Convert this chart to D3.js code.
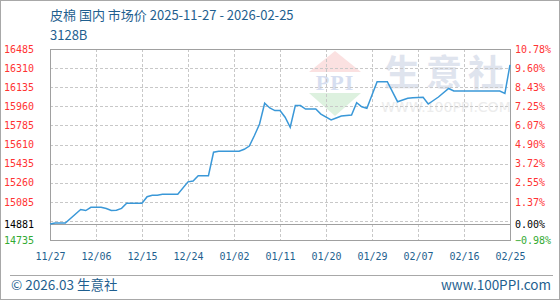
<!DOCTYPE html>
<html>
<head>
<meta charset="utf-8">
<script src="https://cdn.jsdelivr.net/npm/d3@7"></script>
<style>
  body { margin: 0; background: #fff; }
  svg { display: block; }
</style>
</head>
<body>
<svg id="chart" width="560" height="300"></svg>
<script>
// 皮棉 3128B 国内市场价, 2025-11-27 .. 2026-02-25

const dates = [
    "2025-11-27", "2025-11-28", "2025-11-30", "2025-12-03", "2025-12-04", "2025-12-05",
    "2025-12-07", "2025-12-08", "2025-12-09", "2025-12-10", "2025-12-11", "2025-12-12",
    "2025-12-15", "2025-12-16", "2025-12-17", "2025-12-18", "2025-12-19", "2025-12-22",
    "2025-12-24", "2025-12-25", "2025-12-26", "2025-12-28", "2025-12-29", "2025-12-30",
    "2026-01-03", "2026-01-04", "2026-01-05", "2026-01-06", "2026-01-07", "2026-01-08",
    "2026-01-09", "2026-01-10", "2026-01-11", "2026-01-12", "2026-01-13", "2026-01-14",
    "2026-01-15", "2026-01-16", "2026-01-18", "2026-01-19", "2026-01-21", "2026-01-22",
    "2026-01-23", "2026-01-25", "2026-01-26", "2026-01-27", "2026-01-28", "2026-01-30",
    "2026-02-01", "2026-02-03", "2026-02-05", "2026-02-06", "2026-02-08", "2026-02-09",
    "2026-02-11", "2026-02-13", "2026-02-14", "2026-02-23", "2026-02-24", "2026-02-25"
];
const prices = [
    14881, 14890, 14890, 15015, 15005, 15035,
    15035, 15024, 15005, 15008, 15025, 15071,
    15071, 15132, 15145, 15145, 15154, 15154,
    15268, 15275, 15324, 15324, 15539, 15548,
    15548, 15566, 15596, 15692, 15798, 15988,
    15945, 15921, 15921, 15860, 15768, 15967,
    15967, 15935, 15935, 15889, 15835, 15853,
    15871, 15880, 15993, 15956, 15942, 16185,
    16185, 16002, 16033, 16038, 16042, 15981,
    16045, 16123, 16100, 16100, 16079, 16340
];

const xTicks = ["2025-11-27", "2025-12-06", "2025-12-15", "2025-12-24", "2026-01-02", "2026-01-11",
                "2026-01-20", "2026-01-29", "2026-02-07", "2026-02-16", "2026-02-25"];
const yGrid = [14735, 14910, 15085, 15260, 15435, 15610, 15785, 15960, 16135, 16310, 16485];
const yLabels = [14735, 14881, 15085, 15260, 15435, 15610, 15785, 15960, 16135, 16310, 16485];
const basePrice = 14881;

const titleText = "皮棉 国内 市场价 2025-11-27 - 2026-02-25";
const subTitle = "3128B";
const footLeft = "© 2026.03 生意社";
const footRight = "www.100PPI.com";

const parse = d3.timeParse("%Y-%m-%d");
const data = dates.map((d, i) => ({ date: parse(d), value: prices[i] }));

const svg = d3.select('#chart');
const plot = { left: 50, right: 510, top: 49, bottom: 240 };
const textBlue = '#1f5f8f';
const mono = '"DejaVu Sans Mono", monospace';
const sans = '"Noto Sans CJK SC", sans-serif';

const x = d3.scaleTime()
    .domain([parse(xTicks[0]), parse(xTicks[xTicks.length - 1])])
    .range([plot.left, plot.right]);
const y = d3.scaleLinear()
    .domain([14735, 16485])
    .range([plot.bottom, plot.top]);

// outer frame
svg.append('rect')
    .attr('x', 0.5).attr('y', 0.5)
    .attr('width', 559).attr('height', 299)
    .attr('fill', '#fff')
    .attr('stroke', '#a8a8a8');

// watermark
const wm = svg.append('g').attr('class', 'watermark');
wm.append('path')
    .attr('d', 'M335,51 L361,72 L309,72 Z')
    .attr('fill', '#fbe1e1');
wm.append('path')
    .attr('d', 'M309,93 L361,93 L335,116 Z')
    .attr('fill', '#ddf1df');
wm.append('text')
    .attr('x', 335).attr('y', 90)
    .attr('text-anchor', 'middle')
    .attr('font-family', '"Liberation Serif", serif')
    .attr('font-weight', 'bold')
    .attr('font-size', 22)
    .attr('letter-spacing', 1)
    .attr('fill', '#d6def0')
    .text('PPI');
wm.append('text')
    .attr('x', 447).attr('y', 86)
    .attr('text-anchor', 'middle')
    .attr('font-family', sans)
    .attr('font-weight', 'bold')
    .attr('font-size', 36)
    .attr('letter-spacing', 6)
    .attr('fill', '#dfe4ee')
    .text('生意社');
wm.append('text')
    .attr('x', 446).attr('y', 112)
    .attr('text-anchor', 'middle')
    .attr('font-family', '"DejaVu Sans", sans-serif')
    .attr('font-size', 14)
    .attr('fill', '#ececec')
    .text('WWW.100PPI.COM');

// grid
const grid = svg.append('g').attr('class', 'grid');
grid.selectAll('line.h')
    .data(yGrid.slice(1, -1))
    .enter()
    .append('line')
    .attr('class', 'h')
    .attr('x1', plot.left).attr('x2', plot.right)
    .attr('y1', d => Math.round(y(d)) + 0.5)
    .attr('y2', d => Math.round(y(d)) + 0.5)
    .attr('stroke', '#c8c8c8')
    .attr('stroke-dasharray', '3,2');
grid.selectAll('line.v')
    .data(xTicks.slice(1, -1))
    .enter()
    .append('line')
    .attr('class', 'v')
    .attr('x1', d => Math.round(x(parse(d))) + 0.5)
    .attr('x2', d => Math.round(x(parse(d))) + 0.5)
    .attr('y1', plot.top).attr('y2', plot.bottom)
    .attr('stroke', '#c8c8c8')
    .attr('stroke-dasharray', '3,2');

// base line
svg.append('line')
    .attr('x1', plot.left).attr('x2', plot.right)
    .attr('y1', Math.round(y(basePrice)) + 0.5)
    .attr('y2', Math.round(y(basePrice)) + 0.5)
    .attr('stroke', '#a0a0a0');

// plot frame
svg.append('rect')
    .attr('x', plot.left + 0.5).attr('y', plot.top + 0.5)
    .attr('width', plot.right - plot.left)
    .attr('height', plot.bottom - plot.top)
    .attr('fill', 'none')
    .attr('stroke', '#a0a0a0');

// price line
const line = d3.line()
    .x(d => x(d.date))
    .y(d => y(d.value));
svg.append('path')
    .datum(data)
    .attr('d', line)
    .attr('fill', 'none')
    .attr('stroke', '#3a98d8')
    .attr('stroke-width', 1.5);

// axes
const colorFor = v => v > basePrice ? '#ff3333' : (v < basePrice ? '#33aa33' : '#000');
const pct = d3.format('.2f');

const yLeft = d3.axisLeft(y).tickValues(yLabels).tickSize(0).tickPadding(16).tickFormat(d3.format('d'));
svg.append('g')
    .attr('transform', `translate(${plot.left},0)`)
    .call(yLeft)
    .call(g => g.select('.domain').remove())
    .call(g => g.selectAll('text')
        .attr('font-family', mono).attr('font-size', 10)
        .attr('fill', d => colorFor(d)));

const yRight = d3.axisRight(y).tickValues(yLabels).tickSize(0).tickPadding(5)
    .tickFormat(d => pct((d - basePrice) / basePrice * 100) + '%');
svg.append('g')
    .attr('transform', `translate(${plot.right},0)`)
    .call(yRight)
    .call(g => g.select('.domain').remove())
    .call(g => g.selectAll('text')
        .attr('font-family', mono).attr('font-size', 10)
        .attr('fill', d => colorFor(d)));

const xAxis = d3.axisBottom(x).tickValues(xTicks.map(parse)).tickSize(0).tickPadding(13)
    .tickFormat(d3.timeFormat('%m/%d'));
svg.append('g')
    .attr('transform', `translate(0,${plot.bottom})`)
    .call(xAxis)
    .call(g => g.select('.domain').remove())
    .call(g => g.selectAll('text')
        .attr('font-family', mono).attr('font-size', 10)
        .attr('fill', textBlue));

// titles
svg.append('text')
    .attr('x', 50).attr('y', 20)
    .attr('font-family', sans)
    .attr('font-size', 13)
    .attr('fill', textBlue)
    .text(titleText);
svg.append('text')
    .attr('x', 50).attr('y', 39.5)
    .attr('font-family', sans)
    .attr('font-size', 13)
    .attr('fill', textBlue)
    .text(subTitle);

// footer
svg.append('line')
    .attr('x1', 10).attr('x2', 553)
    .attr('y1', 275.5).attr('y2', 275.5)
    .attr('stroke', '#a8a8a8');
svg.append('text')
    .attr('x', 11).attr('y', 290)
    .attr('font-family', sans)
    .attr('font-size', 13.5)
    .attr('fill', textBlue)
    .text(footLeft);
svg.append('text')
    .attr('x', 551).attr('y', 290)
    .attr('text-anchor', 'end')
    .attr('font-family', sans)
    .attr('font-size', 13.5)
    .attr('fill', textBlue)
    .text(footRight);
</script>
</body>
</html>
